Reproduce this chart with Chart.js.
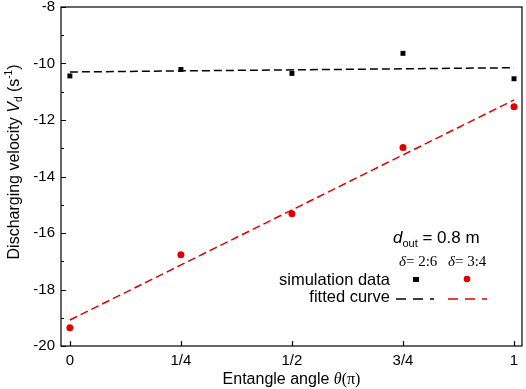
<!DOCTYPE html>
<html>
<head>
<meta charset="utf-8">
<script src="https://cdn.jsdelivr.net/npm/chart.js@4.4.0/dist/chart.umd.min.js"></script>
<style>
  html,body{margin:0;padding:0;background:#fff;}
  #wrap{width:526px;height:389px;}
</style>
</head>
<body>
<div id="wrap"><canvas id="c"></canvas></div>
<script>
// datos
const angles = [0, 0.25, 0.5, 0.75, 1];
const angleLabels = ['0', '1/4', '1/2', '3/4', '1'];
const simA = [-10.44, -10.21, -10.35, -9.64, -10.54];   // delta = 2:6
const simB = [-19.35, -16.77, -15.32, -12.97, -11.53];  // delta = 3:4
const fitX = [0, 1];
const fitA = [-10.30, -10.15];
const fitB = [-19.08, -11.29];
const yTicks = [-20, -18, -16, -14, -12, -10, -8];

const pts = (xs, ys)=> xs.map((x,i)=>({x, y: ys[i]}));
const FONT = '"Liberation Sans", Arial, sans-serif';
const SERIF = '"Liberation Serif", "Times New Roman", serif';

// dibuja texto por trozos (normal, cursiva, sub/superindice)
function richText(ctx, parts, x, y, align){
  let total = 0;
  parts.forEach(p=>{ ctx.font = p.font; total += ctx.measureText(p.t).width; });
  let cx = align === 'center' ? x - total/2 : (align === 'right' ? x - total : x);
  parts.forEach(p=>{
    ctx.font = p.font;
    ctx.fillText(p.t, cx, y + (p.dy||0));
    cx += ctx.measureText(p.t).width;
  });
}

const decor = {
  id:'decor',
  afterDraw(chart){
    const {ctx, chartArea:a, scales:{x, y}} = chart;
    ctx.save();
    ctx.strokeStyle = '#000';
    ctx.lineWidth = 1.2;
    ctx.strokeRect(a.left, a.top, a.right - a.left, a.bottom - a.top);
    // marcas hacia adentro
    ctx.beginPath();
    angles.forEach(v=>{
      const px = Math.round(x.getPixelForValue(v)) + 0.5;
      ctx.moveTo(px, a.bottom); ctx.lineTo(px, a.bottom - 5);
    });
    for(let v=-20; v<=-8; v++){
      const py = Math.round(y.getPixelForValue(v)) + 0.5;
      const len = (v % 2 === 0) ? 5 : 3;
      ctx.moveTo(a.left, py); ctx.lineTo(a.left + len, py);
    }
    ctx.stroke();

    ctx.fillStyle = '#000';
    ctx.textBaseline = 'alphabetic';
    // titulo eje x
    richText(ctx, [
      {t:'Entangle angle ', font:'16px '+FONT},
      {t:'\u03B8', font:'italic 16px '+SERIF},
      {t:'(\u03C0)', font:'16px '+SERIF}
    ], (a.left + a.right)/2, 384, 'center');

    // titulo eje y (rotado)
    ctx.save();
    ctx.translate(19, 162);
    ctx.rotate(-Math.PI/2);
    richText(ctx, [
      {t:'Discharging velocity ', font:'16px '+FONT},
      {t:'V', font:'italic 16px '+FONT},
      {t:'d', font:'10px '+FONT, dy:3},
      {t:' (s', font:'16px '+FONT},
      {t:'-1', font:'10px '+FONT, dy:-7},
      {t:')', font:'16px '+FONT}
    ], 0, 0, 'center');
    ctx.restore();

    // leyenda
    richText(ctx, [
      {t:'d', font:'italic 17px '+FONT},
      {t:'out', font:'11px '+FONT, dy:4},
      {t:' = 0.8 m', font:'17px '+FONT}
    ], 393, 243, 'left');
    richText(ctx, [
      {t:'\u03B4', font:'italic 15px '+SERIF},
      {t:'= 2:6', font:'15px '+SERIF}
    ], 399, 266, 'left');
    richText(ctx, [
      {t:'\u03B4', font:'italic 15px '+SERIF},
      {t:'= 3:4', font:'15px '+SERIF}
    ], 448, 266, 'left');
    ctx.font = '16.5px '+FONT;
    ctx.textAlign = 'right';
    ctx.fillText('simulation data', 390, 285);
    ctx.fillText('fitted curve', 390, 302);
    ctx.textAlign = 'left';
    // simbolos
    ctx.fillStyle = '#000';
    ctx.fillRect(413, 277, 6, 5);
    ctx.fillStyle = '#e00000';
    ctx.beginPath(); ctx.arc(467, 279, 3.3, 0, Math.PI*2); ctx.fill();
    ctx.lineWidth = 1.6;
    ctx.setLineDash([10,7]);
    ctx.strokeStyle = '#000';
    ctx.beginPath(); ctx.moveTo(396, 299); ctx.lineTo(434, 299); ctx.stroke();
    ctx.strokeStyle = '#e00000';
    ctx.beginPath(); ctx.moveTo(448, 299); ctx.lineTo(487, 299); ctx.stroke();
    ctx.restore();
  }
};

new Chart(document.getElementById('c'), {
  type:'scatter',
  data:{
    datasets:[
      { label:'fit 2:6', type:'line', data: pts(fitX, fitA), borderColor:'#000', borderWidth:1.5,
        borderDash:[8,4], pointRadius:0, fill:false },
      { label:'fit 3:4', type:'line', data: pts(fitX, fitB), borderColor:'#e00000', borderWidth:1.5,
        borderDash:[8,4], pointRadius:0, fill:false },
      { label:'sim 2:6', data: pts(angles, simA), pointStyle:'rect', pointRadius:3.5,
        backgroundColor:'#000', borderColor:'#000', borderWidth:0 },
      { label:'sim 3:4', data: pts(angles, simB), pointStyle:'circle', pointRadius:3.5,
        backgroundColor:'#e00000', borderColor:'#e00000', borderWidth:0 }
    ]
  },
  options:{
    responsive:true, maintainAspectRatio:false, animation:false,
    layout:{ padding:{ top:7, right:3, left:0, bottom:0 } },
    plugins:{ legend:{display:false}, tooltip:{enabled:false} },
    scales:{
      x:{
        type:'linear', min:-0.02, max:1.018,
        afterBuildTicks: s=>{ s.ticks = angles.map(v=>({value:v})); },
        afterFit: s=>{ s.height = 43; },
        grid:{ display:false, drawTicks:false },
        border:{ display:false },
        ticks:{ color:'#000', font:{ family:FONT, size:15 }, padding:6, maxRotation:0,
          callback: v=>{ const i = angles.indexOf(v); return i >= 0 ? angleLabels[i] : ''; } }
      },
      y:{
        min:-20, max:-8,
        afterBuildTicks: s=>{ s.ticks = yTicks.map(v=>({value:v})); },
        afterFit: s=>{ s.width = 61; s.paddingTop = 0; s.paddingBottom = 0; },
        grid:{ display:false, drawTicks:false },
        border:{ display:false },
        ticks:{ color:'#000', font:{ family:FONT, size:15 }, padding:6 }
      }
    }
  },
  plugins:[decor]
});
</script>
</body>
</html>
